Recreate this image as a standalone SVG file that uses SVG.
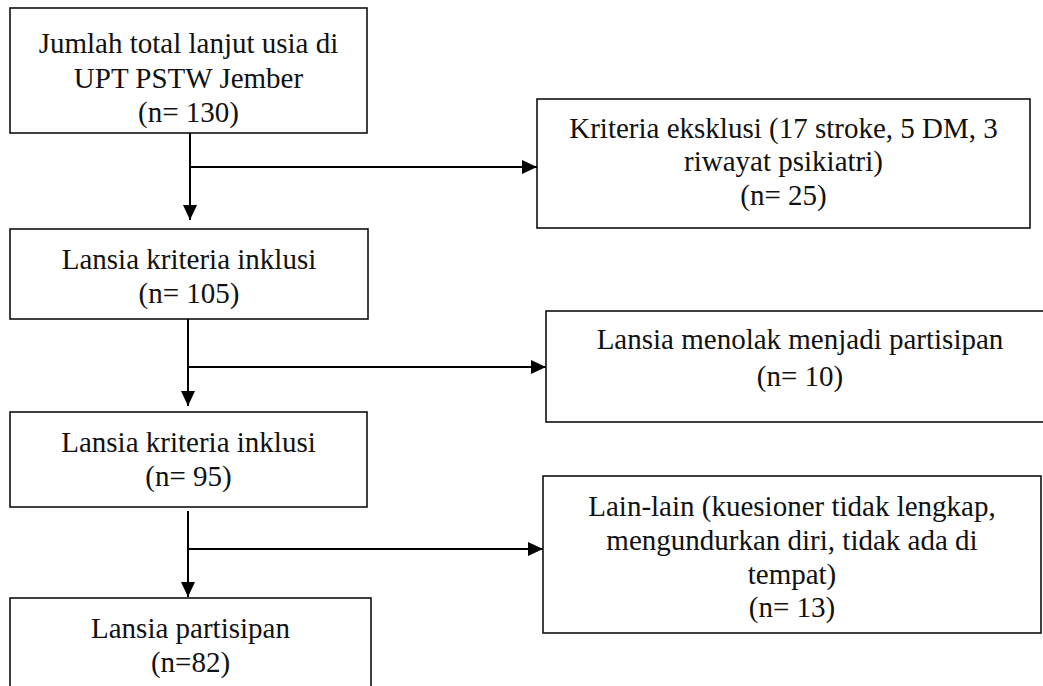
<svg xmlns="http://www.w3.org/2000/svg" width="1043" height="686" viewBox="0 0 1043 686">
  <defs>
    <marker id="ah" markerWidth="15" markerHeight="15" refX="15" refY="7.5" orient="auto" markerUnits="userSpaceOnUse">
      <path d="M0,0.5 L15,7.5 L0,14.5 z" fill="#000"/>
    </marker>
    <style>
      .box { fill: none; stroke: #111; stroke-width: 1.6; }
      .t { font-family: "Liberation Serif", "Times New Roman", serif; font-size: 29px; fill: #111; text-anchor: middle; }
      .c { fill: none; stroke: #000; stroke-width: 2; }
    </style>
  </defs>
  <rect width="1043" height="686" fill="#fff"/>

  <g id="n1">
    <rect class="box" x="10" y="8" width="357" height="125"/>
    <text class="t" x="188.5" y="53">Jumlah total lanjut usia di</text>
    <text class="t" x="188.5" y="88">UPT PSTW Jember</text>
    <text class="t" x="188.5" y="122">(n= 130)</text>
  </g>
  <g id="n2">
    <rect class="box" x="537" y="99" width="493" height="129"/>
    <text class="t" x="783.5" y="138">Kriteria eksklusi (17 stroke, 5 DM, 3</text>
    <text class="t" x="783.5" y="171">riwayat psikiatri)</text>
    <text class="t" x="783.5" y="205">(n= 25)</text>
  </g>
  <g id="n3">
    <rect class="box" x="10" y="229" width="358" height="90"/>
    <text class="t" x="189" y="269">Lansia kriteria inklusi</text>
    <text class="t" x="189" y="303">(n= 105)</text>
  </g>
  <g id="n4">
    <rect class="box" x="546" y="311" width="510" height="111"/>
    <text class="t" x="800" y="349">Lansia menolak menjadi partisipan</text>
    <text class="t" x="800" y="386">(n= 10)</text>
  </g>
  <g id="n5">
    <rect class="box" x="10" y="412" width="357" height="95"/>
    <text class="t" x="188.5" y="452">Lansia kriteria inklusi</text>
    <text class="t" x="188.5" y="486">(n= 95)</text>
  </g>
  <g id="n6">
    <rect class="box" x="543" y="476" width="498" height="157"/>
    <text class="t" x="792" y="516">Lain-lain (kuesioner tidak lengkap,</text>
    <text class="t" x="792" y="550">mengundurkan diri, tidak ada di</text>
    <text class="t" x="792" y="584">tempat)</text>
    <text class="t" x="792" y="617">(n= 13)</text>
  </g>
  <g id="n7">
    <rect class="box" x="10" y="598" width="361" height="110"/>
    <text class="t" x="190.5" y="638">Lansia partisipan</text>
    <text class="t" x="190.5" y="672">(n=82)</text>
  </g>

  <g id="connectors">
    <line class="c" x1="190" y1="133" x2="190" y2="220" marker-end="url(#ah)"/>
    <line class="c" x1="190" y1="167" x2="537" y2="167" marker-end="url(#ah)"/>
    <line class="c" x1="188" y1="319" x2="188" y2="406" marker-end="url(#ah)"/>
    <line class="c" x1="188" y1="367" x2="546" y2="367" marker-end="url(#ah)"/>
    <line class="c" x1="188" y1="511" x2="188" y2="597" marker-end="url(#ah)"/>
    <line class="c" x1="188" y1="549" x2="543" y2="549" marker-end="url(#ah)"/>
  </g>
</svg>
